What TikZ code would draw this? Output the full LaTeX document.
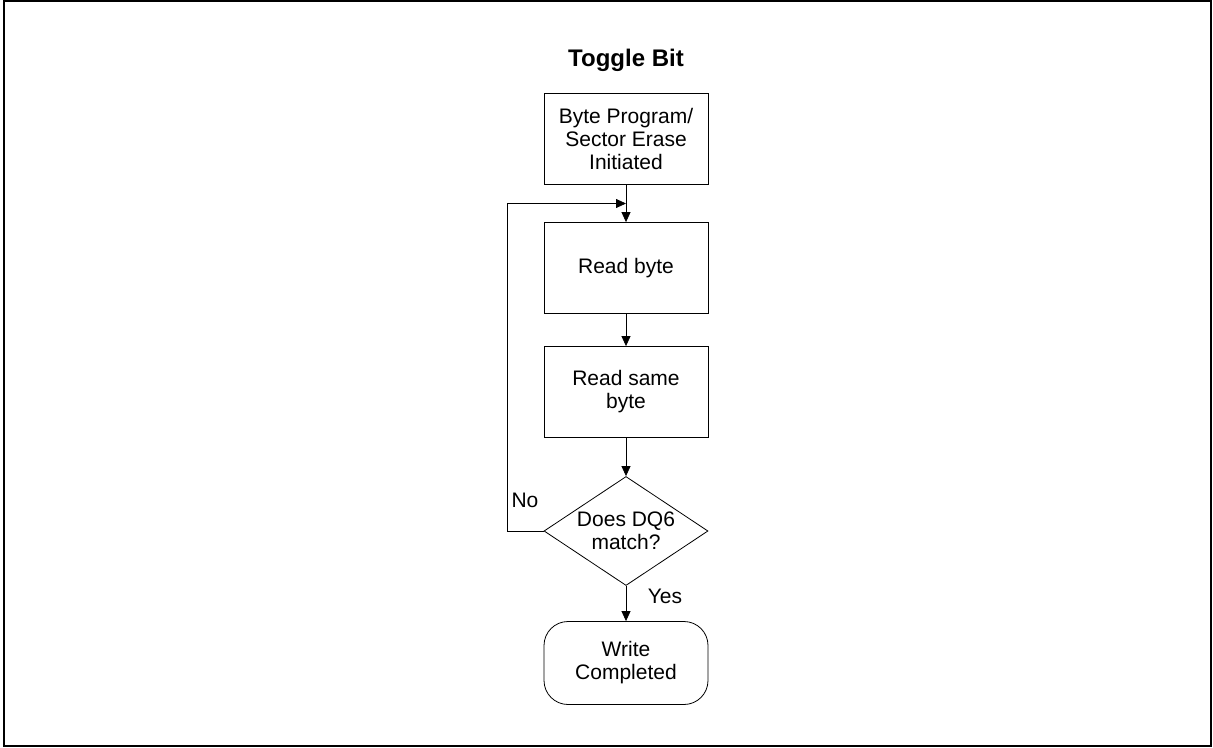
\documentclass[tikz,border=0pt]{standalone}
\usepackage{fontspec}
\setmainfont{Liberation Sans}
\usetikzlibrary{shapes.geometric,positioning,arrows.meta,calc}

\begin{document}
\begin{tikzpicture}[x=0.5pt,y=-0.5pt,on grid,>={Triangle[length=5pt,width=4.5pt]},
  every node/.style={font=\fontsize{10.5}{11.5}\selectfont,align=center},
  proc/.style={draw,minimum width=82pt,minimum height=45.5pt,inner sep=0pt},
  decide/.style={draw,diamond,aspect=1.5,minimum width=82pt,minimum height=54.5pt,inner sep=0pt},
  term/.style={draw,rounded corners=12pt,minimum width=82pt,minimum height=41.5pt,inner sep=0pt}]
\useasboundingbox (0,0) rectangle (1213,748);
\draw[line width=1pt] (3.5,1) rectangle (1211,746);

\node[font=\bfseries\fontsize{12}{14}\selectfont]	(title)	at (626,60)				{Toggle Bit};
\node[proc]		(start)	at (626,139)						{Byte Program/\\Sector Erase\\Initiated};
\node[proc]		(rd1)	[below=64.5pt of start]				{Read byte};
\node[proc]		(rd2)	[below=62pt of rd1]					{Read same\\byte};
\node[decide]	(dq6)	[below=69.5pt of rd2]				{Does DQ6\\match?};
\node[term]		(done)	[below=66pt of dq6]					{Write\\Completed};

\coordinate (join) at ($(start.south)!0.5!(rd1.north)$);
\coordinate (loop) at ([xshift=-18pt]dq6.west);

\draw[->] (start) -- (rd1);
\draw[->] (rd1) -- (rd2);
\draw[->] (rd2) -- (dq6);
\draw[->] (dq6) -- (done);
\draw[->] (dq6.west) -- (loop) |- (join);

\node (no)	at (525,500)	{No};
\node (yes)	at (665,596)	{Yes};
\end{tikzpicture}
\end{document}
